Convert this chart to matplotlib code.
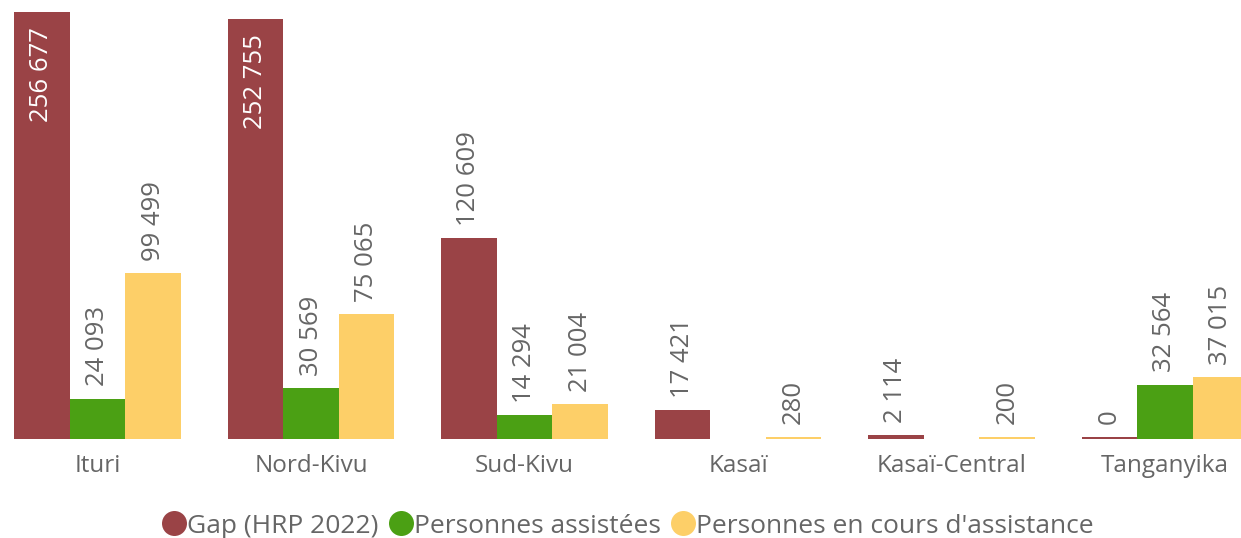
import matplotlib
matplotlib.use('Agg')
import matplotlib.pyplot as plt
from matplotlib.lines import Line2D
import numpy as np

# data
provinces = ['Ituri', 'Nord-Kivu', 'Sud-Kivu', 'Kasaï', 'Kasaï-Central', 'Tanganyika']
gap = [256677, 252755, 120609, 17421, 2114, 0]
assistees = [24093, 30569, 14294, None, None, 32564]
en_cours = [99499, 75065, 21004, 280, 200, 37015]

series = [
    ('Gap (HRP 2022)', gap, '#9A4346'),
    ('Personnes assistées', assistees, '#4BA014'),
    ("Personnes en cours d'assistance", en_cours, '#FDCF68'),
]

TEXT = '#666666'
plt.rcParams['font.family'] = ['Open Sans', 'DejaVu Sans']


def fmt(v):
    return '{:,}'.format(v).replace(',', ' ')


fig = plt.figure(figsize=(12.41, 5.38), dpi=100)
ax = fig.add_axes([0, 0.184, 1, 0.816])

x = np.arange(len(provinces))
width = 0.26
min_h = 1500  # bars with tiny values still show a thin sliver

for i, (name, vals, color) in enumerate(series):
    off = (i - 1) * width
    for xi, v in zip(x, vals):
        if v is None:
            continue
        ax.bar(xi + off, max(v, min_h), width=width, color=color, linewidth=0)
        if v > 200000:
            ax.annotate(fmt(v), xy=(xi + off, v), xytext=(0, -11),
                        textcoords='offset points', rotation=90,
                        ha='center', va='top', color='white', fontsize=18.5)
        else:
            ax.annotate(fmt(v), xy=(xi + off, max(v, min_h)), xytext=(0, 9),
                        textcoords='offset points', rotation=90,
                        ha='center', va='bottom', color=TEXT, fontsize=18.5)

ax.set_xlim(-0.4567, 5.356)
ax.set_ylim(0, 263890)
ax.set_xticks(x)
ax.set_xticklabels(provinces, fontsize=17.5, color=TEXT)
ax.tick_params(axis='x', length=0, pad=11)
ax.set_yticks([])
for s in ax.spines.values():
    s.set_visible(False)
ax.patch.set_alpha(0)

handles = [Line2D([], [], linestyle='none', marker='o', markersize=18,
                  markerfacecolor=c, markeredgewidth=0) for _, _, c in series]
fig.legend(handles, [n for n, _, _ in series], loc='center',
           bbox_to_anchor=(0.506, 0.022), ncol=3, frameon=False,
           fontsize=19, labelcolor=TEXT, handletextpad=0.05,
           columnspacing=0.4, handlelength=0.9, borderpad=0)

fig.savefig('out.png', dpi=100)
